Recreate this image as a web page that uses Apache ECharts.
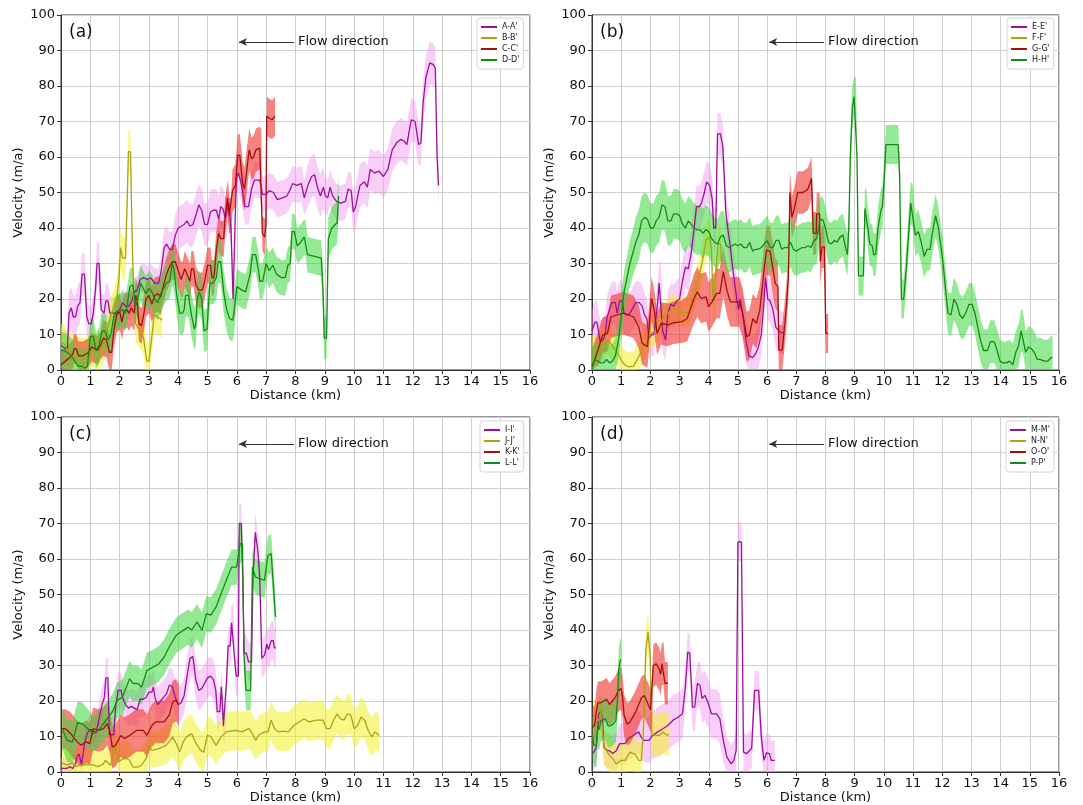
<!DOCTYPE html>
<html>
<head>
<meta charset="utf-8">
<script src="https://cdn.jsdelivr.net/npm/echarts@6/dist/echarts.min.js"></script>
<style>html,body{margin:0;padding:0;background:#fff;}#c{width:1083px;height:805px;}</style>
</head>
<body>
<div id="c"></div>
<script>
// Axis ranges / ticks
const X_MIN = 0, X_MAX = 16, X_STEP = 1;
const Y_MIN = 0, Y_MAX = 100, Y_STEP = 10;
const PANEL_LABELS = ['(a)', '(b)', '(c)', '(d)'];
const SERIES_NAMES = [
  ["A-A'", "B-B'", "C-C'", "D-D'"],
  ["E-E'", "F-F'", "G-G'", "H-H'"],
  ["I-I'", "J-J'", "K-K'", "L-L'"],
  ["M-M'", "N-N'", "O-O'", "P-P'"]
];
// Flow direction arrow (km, m/a): from, to
const ARROW_FROM = [7.95, 92.4];
const ARROW_TO = [6.07, 92.4];

// Each point: [distance km, velocity m/a, band half-width m/a]
const AA = [[0,7,5],[0.15,6,5],[0.22,6,5],[0.27,16,6],[0.35,17.5,6],[0.42,15,6],[0.5,15,6],[0.57,18,6],[0.65,19,6],[0.72,27,6],[0.8,27,6],[0.88,15,5],[0.95,13,5],[1.03,13,5],[1.1,16,5],[1.18,23,6],[1.23,30,6],[1.3,30,6],[1.37,17,5],[1.47,16,5],[1.53,19.5,5],[1.6,19.5,5],[1.67,16,5],[1.9,16,4],[2.0,17,4],[2.1,19,4],[2.2,18,4],[2.32,18,4],[2.42,19.5,4],[2.5,22,4],[2.6,22.5,4],[2.7,25.5,4],[2.8,26,4],[2.95,25.5,4],[3.05,26,4],[3.2,24.5,4],[3.33,24.5,4],[3.42,28,5],[3.52,34.5,5],[3.6,35.5,5],[3.7,34,5],[3.8,34,5],[3.9,38,6],[4.0,40,6],[4.2,41,6],[4.3,42,6],[4.4,40.5,6],[4.5,41,6],[4.6,43.5,6],[4.7,46.5,6],[4.8,45,6],[4.9,41,6],[5.0,41,6],[5.1,44.5,6],[5.2,45,6],[5.3,45,6],[5.38,42.5,6],[5.45,46,6],[5.52,45.5,6],[5.6,43,6],[5.65,43,6],[5.72,47,6],[5.8,40,6],[5.87,20,6],[5.93,20,6],[5.98,54,5],[6.05,55.5,5],[6.15,52.5,5],[6.28,46,5],[6.4,46,5],[6.5,51,5],[6.6,53.5,5],[6.78,53.5,5],[6.88,49.5,5],[7.0,49.5,5],[7.1,50.5,5],[7.25,50,5],[7.38,48,5],[7.55,48.5,5],[7.7,49,5],[7.8,50.5,5],[7.9,52.5,5],[8.05,52,5],[8.2,52.5,5],[8.3,48.5,5],[8.42,52,6],[8.55,54.5,6],[8.65,55,6],[8.75,51.5,6],[8.85,49,6],[8.95,51.5,6],[9.02,49,5],[9.1,48.5,5],[9.18,51.5,5],[9.27,49,5],[9.4,47.5,5],[9.55,47,5],[9.7,47.5,5],[9.8,51,5],[9.9,50.5,5],[9.97,44.5,6],[10.05,46,6],[10.2,52,6],[10.35,53,6],[10.45,51.5,6],[10.55,56.5,6],[10.7,55.5,6],[10.85,56,6],[11.0,54.5,6],[11.15,56.5,6],[11.3,62,6],[11.45,64,6],[11.6,65,6],[11.7,64.5,6],[11.8,63.5,6],[11.95,70.5,6],[12.08,70,6],[12.2,63.5,6],[12.28,64,6],[12.35,75,6],[12.45,82.5,6],[12.58,86.5,6],[12.7,86,6],[12.77,85,6],[12.83,60,6],[12.88,52,6]];
const BB = [[0,7.5,5.5],[0.1,7.5,5.5],[0.2,6,5],[0.35,5,5],[0.5,5,5],[0.65,4,5],[0.85,4,5],[1.0,5,5],[1.1,6.5,5],[1.2,5,5],[1.35,5.5,5],[1.5,8,5],[1.6,12,5],[1.7,15.5,5],[1.8,17.5,5],[1.9,20,6],[1.98,26,6],[2.03,34.5,6],[2.1,31.5,6],[2.2,31.5,6],[2.26,48,6],[2.3,61.5,6],[2.37,61.5,6],[2.42,40,6],[2.48,20,5],[2.55,13,5],[2.65,11.5,5],[2.75,10.5,5],[2.82,9,5],[2.88,5,5],[2.93,2.5,5],[3.0,2.5,5],[3.08,8,5],[3.18,15.5,5],[3.3,15,5],[3.45,14,5]];
const CC = [[0,1.5,4],[0.15,2.5,4],[0.3,3.5,4],[0.4,4.5,4],[0.45,6,4],[0.52,6,4],[0.6,4,4],[0.75,4,4],[0.85,4.5,4],[0.95,5,4],[1.05,6.5,4],[1.15,6,4],[1.25,5.5,4],[1.35,7,4],[1.45,9,5],[1.55,8.5,5],[1.65,5,5],[1.73,5,5],[1.8,11,5],[1.9,15.5,5],[2.0,16.5,5],[2.08,13.5,5],[2.15,16.5,5],[2.25,17,5],[2.32,16,5],[2.4,17.5,5],[2.5,16,5],[2.55,21,5],[2.6,19.5,5],[2.66,13,5],[2.75,12.5,5],[2.83,16,5],[2.9,20,5],[3.0,21,5],[3.1,18.5,5],[3.2,21,5],[3.3,21.5,5],[3.4,20.5,5],[3.5,24,5],[3.6,27,5],[3.7,29,5],[3.8,30.5,5],[3.9,30.5,5],[4.0,28,5],[4.1,25.5,5],[4.15,25.5,5],[4.22,28.5,5],[4.3,27,5],[4.4,25,5],[4.45,28.5,5],[4.52,28.5,5],[4.6,24,5],[4.7,22.5,5],[4.82,22.5,5],[4.9,25,5],[5.0,29.5,5],[5.1,29.5,5],[5.15,26,5],[5.22,26,5],[5.3,34,5],[5.38,38.5,5],[5.45,37,5],[5.55,37,5],[5.6,43,5],[5.68,48.5,5],[5.74,43.5,5],[5.8,43.5,5],[5.85,50.5,6],[5.95,52,6],[6.03,60.5,6],[6.1,60.5,6],[6.2,52.5,6],[6.26,51,6],[6.32,55,6],[6.42,62,6],[6.5,59.5,6],[6.57,60,6],[6.65,62,6],[6.78,62.5,6],[6.83,62,6],[6.87,38.5,5],[6.95,37.5,5],[6.99,41,5],[7.02,71.5,5.5],[7.1,71,5.5],[7.2,70.5,5.5],[7.3,71.5,5.5]];
const DD = [[0,5.5,5],[0.1,5.5,5],[0.2,5,5],[0.3,4.5,5],[0.4,3.5,5],[0.5,2,5],[0.6,1,5],[0.72,1,5],[0.82,0.5,5],[0.9,1,5],[0.95,5,5],[1.0,9.5,5],[1.1,9.5,5],[1.2,5.5,5],[1.3,7,5],[1.4,11,5],[1.5,11,5],[1.6,8.5,5],[1.7,10,5],[1.8,15,5],[1.9,16.5,5],[2.0,16.5,5],[2.1,17,5],[2.2,16,5],[2.28,19.5,5],[2.35,23.5,5],[2.45,24,5],[2.55,18,5],[2.62,20,5],[2.72,24.5,5],[2.8,23,5],[2.9,21.5,5],[3.0,23,5],[3.1,22,5],[3.2,20,5],[3.3,19,5],[3.4,21.5,5],[3.5,23,5],[3.6,24.5,5],[3.7,25,5],[3.8,30,6],[3.86,28,6],[3.95,21,6],[4.05,16,6],[4.15,16,6],[4.2,17,6],[4.25,21,6],[4.35,21,6],[4.45,15.5,6],[4.55,11.5,6],[4.6,13,6],[4.65,20,6],[4.72,22,6],[4.8,20,6],[4.88,11,6],[4.98,11.5,6],[5.08,24.5,6],[5.2,24.5,6],[5.3,26,6],[5.36,30.5,6],[5.45,30.5,6],[5.55,22,6],[5.65,17,6],[5.75,14.5,6],[5.85,14,6],[5.9,16,6],[6.0,23.5,5],[6.17,22.5,5],[6.3,22,5],[6.45,27,5],[6.53,32.5,5],[6.64,32.5,5],[6.74,28,5],[6.78,25,5],[6.88,25,5],[7.0,30,5],[7.1,28,5],[7.23,29.5,5],[7.35,27,5],[7.53,26,5],[7.65,26,5],[7.74,29.5,5],[7.82,30,5],[7.88,39,5],[7.96,39,5],[8.06,35,5],[8.18,36,5],[8.3,37.5,5],[8.35,37,5],[8.41,32.5,5],[8.65,32,5],[8.88,31.5,5],[8.94,22,6],[8.98,9,6],[9.06,9,6],[9.12,37,6],[9.24,40,6],[9.42,41.5,6],[9.47,49,6]];

const EE = [[0,11,6],[0.1,13.5,6],[0.17,13.5,6],[0.22,11,6],[0.28,8,6],[0.38,8.5,6],[0.45,10,6],[0.52,15,6],[0.6,17,6],[0.68,19,6],[0.8,19,6],[0.86,16,6],[0.95,19.5,6],[1.03,19.5,6],[1.1,16,6],[1.2,15.5,6],[1.3,16,6],[1.4,17.5,6],[1.5,19,6],[1.62,19,6],[1.72,18,6],[1.8,15.5,6],[1.88,14.5,6],[1.95,9,6],[2.05,10,6],[2.12,10,6],[2.18,14,6],[2.25,19,6],[2.3,24.5,6],[2.36,24.5,6],[2.42,11,6],[2.52,8.5,6],[2.6,16,6],[2.7,18.5,6],[2.8,18,6],[2.9,19.5,6],[3.0,20,6],[3.1,25,6],[3.2,29,6],[3.3,28.5,6],[3.4,33,6],[3.5,40,6],[3.58,46,6],[3.68,46,6],[3.75,47,6],[3.85,50,6],[3.93,53,6],[4.03,52,6],[4.12,48,6],[4.17,40,6],[4.24,40,6],[4.3,66.5,6],[4.4,66.5,6],[4.48,63,6],[4.53,55,6],[4.58,45,6],[4.65,40,6],[4.72,36,6],[4.8,30,6],[4.88,25,6],[4.96,20,6],[5.02,17,6],[5.08,20,6],[5.18,15,6],[5.28,8,6],[5.38,4,6],[5.5,3.5,6],[5.6,4.5,6],[5.7,6.5,6],[5.8,10,6],[5.88,18,6],[5.95,26,6],[6.02,20,6],[6.1,19.5,6],[6.2,17,6],[6.3,12,6],[6.4,11,6],[6.5,10.5,6],[6.58,10.5,6]];
const FF = [[0,5.8,4],[0.24,5.2,4],[0.41,8.4,4],[0.6,8,4],[0.77,6,4],[0.89,4.7,4],[1.0,2.8,4],[1.13,1.4,4],[1.24,0.9,4],[1.42,1.1,4],[1.54,2.8,4],[1.66,4.7,4],[1.78,6.6,4],[1.9,8.4,4],[2.01,10.3,4],[2.19,11.3,4],[2.31,12.7,4],[2.43,14.5,4],[2.6,16,4],[2.78,17.4,4],[2.96,16.4,4],[3.2,16.1,4],[3.32,16.4,4],[3.44,19.7,4],[3.55,22.5,4.5],[3.67,26.3,5],[3.79,31,5],[3.91,36.6,5],[4.03,37.5,5],[4.09,34.7,5],[4.15,18.8,5],[4.2,18.8,5],[4.32,35.6,5],[4.41,35.4,5],[4.44,29,5]];
const GG = [[0.02,1,5],[0.24,6.6,5],[0.36,9.8,5],[0.53,10.3,5],[0.65,15,6],[1.07,16,6],[1.42,15,6],[1.6,12.2,6],[1.72,7.5,6],[1.9,6.6,6],[2.04,20.2,6],[2.13,16.9,6],[2.23,10.3,6],[2.37,13.1,6],[2.6,12.7,6],[2.78,13.3,6],[3.08,13.6,6],[3.26,14.5,6.5],[3.5,20.2,7],[3.61,22,7],[3.73,20.2,7],[3.91,20.6,7],[3.99,17.8,7],[4.11,19.2,7],[4.27,21.6,7],[4.38,21.6,7],[4.5,27.7,7],[4.62,22.5,7],[4.74,19.2,7],[4.92,19.2,7],[5.04,19.2,7],[5.15,16.4,7],[5.3,9.4,7],[5.39,9.8,7],[5.51,14.5,7],[5.63,13.1,7],[5.75,16.9,7],[5.92,30,7],[5.98,33.8,7],[6.1,33.5,7],[6.28,24.4,7],[6.37,23.5,7],[6.4,5.6,7],[6.52,5.6,7],[6.66,17.8,6.5],[6.73,26.3,6],[6.78,50,6],[6.85,43,6],[6.93,45.5,6],[7.05,50,6],[7.23,50,6],[7.4,51,6],[7.52,54,6],[7.58,38.5,6],[7.68,38.5,6],[7.7,44,6],[7.8,44,6],[7.82,30.5,6],[7.88,34.7,6],[7.96,34.7,6],[8.01,10.3,5.5],[8.09,10.3,5.5]];
const HH = [[0,1,5],[0.1,3,5],[0.2,2.5,5],[0.3,2,5],[0.4,2,5],[0.5,3,5],[0.6,2,5],[0.7,2.5,5],[0.8,4,5],[0.9,8,5],[1.0,15,6],[1.1,22,6],[1.2,26,6],[1.3,30,6.5],[1.4,33,6.5],[1.5,36,7],[1.6,38,7],[1.7,42,7],[1.8,43,7],[1.9,42.5,7],[2.0,40,7],[2.1,40,7],[2.2,42,7],[2.3,43,7],[2.4,46.5,7],[2.5,46,7],[2.6,42,7],[2.7,42,7],[2.8,44,7],[2.9,44,7],[3.0,43.5,7],[3.1,41,7],[3.2,40,7],[3.3,42,7],[3.4,41,7],[3.5,40,7],[3.6,39.5,7],[3.7,39.5,7],[3.8,38.5,7],[3.9,39.5,7],[4.0,39,7],[4.1,37,7],[4.2,36,7],[4.3,35.5,7],[4.4,37.5,7],[4.5,38,7],[4.6,35,7],[4.7,34.5,7],[4.8,35,7],[4.9,35.5,7],[5.0,35,7],[5.1,35.5,7],[5.2,34.5,7],[5.3,34.5,7],[5.4,36,7],[5.5,33.5,7],[5.6,34,7],[5.7,34,7],[5.8,34.5,7],[5.9,35.5,7],[6.0,36.5,7],[6.1,34.5,7],[6.2,34.5,7],[6.3,36.5,7],[6.4,36.5,7],[6.5,34,7],[6.6,34.5,7],[6.7,34.5,7],[6.8,36,7],[6.9,34,7],[7.0,33.5,7],[7.1,34,7],[7.2,34.5,7],[7.3,34.5,7],[7.4,35,7],[7.5,34.5,7],[7.6,36.5,7],[7.7,37,7],[7.8,42,6.5],[7.9,42.5,6.5],[8.0,40,6],[8.1,36,6],[8.2,35.5,6],[8.3,36.5,6],[8.4,36,6],[8.5,37.5,6],[8.6,38,6],[8.7,34,6],[8.75,32.5,6],[8.8,40,6],[8.85,60,6],[8.92,74,6],[8.98,77,5.5],[9.04,77,5.5],[9.08,60,6],[9.13,26.5,5.5],[9.3,26.5,5.5],[9.35,45.5,5.5],[9.4,45.5,5.5],[9.45,40,6],[9.52,35.5,6],[9.6,35,6],[9.65,32.5,6],[9.72,32.5,6],[9.8,40,6],[9.9,45,6],[9.95,46,6],[10.02,55,6],[10.07,63.5,5.5],[10.49,63.5,5.5],[10.54,55,6],[10.6,20,5.5],[10.68,20,5.5],[10.78,30,6],[10.86,40,6],[10.92,47,6],[10.98,46.5,6],[11.08,38,6],[11.18,39,6],[11.28,36,6],[11.38,32,6],[11.48,34,6],[11.58,34,6],[11.65,38,6],[11.77,43.5,6],[11.87,40,6],[11.95,35,6],[12.03,30,6],[12.12,22,6],[12.2,16,6],[12.3,15.5,6],[12.4,20,6],[12.5,18.5,6],[12.6,15.5,6],[12.7,14.5,6],[12.8,16,6],[12.92,18.5,6],[13.02,18.5,6],[13.12,16,6],[13.22,12,6],[13.32,8,6],[13.42,5.5,6],[13.55,5.5,6],[13.65,8,6],[13.78,8,6],[13.88,5.5,6],[13.98,2.5,6],[14.08,2,6],[14.2,2,6],[14.3,2.5,6],[14.42,1.5,6],[14.52,5,6],[14.62,7,6],[14.7,11,6],[14.76,11,6],[14.86,5,6],[14.96,6.5,6],[15.05,6,6],[15.15,5,6],[15.25,3,6],[15.35,3,6],[15.5,2.5,6],[15.62,2.5,6],[15.72,3.5,6],[15.78,3.5,6]];

const II = [[0,1,3],[0.2,1,3],[0.3,1.5,3],[0.4,1,3],[0.5,2.5,3],[0.55,4.5,3],[0.62,5,3],[0.7,2,3],[0.8,8,4],[0.9,11,4],[1.0,12,4],[1.1,11.5,4],[1.2,11,4],[1.3,15,5],[1.4,19,5],[1.48,21,5],[1.53,26.5,5.5],[1.6,26.5,5.5],[1.65,10.5,5],[1.8,10.5,5],[1.86,18,5],[1.95,23,5],[2.05,23,5],[2.1,21,5],[2.2,19,5],[2.3,18,5],[2.4,18.5,5],[2.5,18,5],[2.6,17.5,5],[2.7,20.5,5],[2.8,20.5,5],[2.9,21,5],[3.0,22.5,5],[3.1,22.5,5],[3.15,24,5],[3.22,20.5,5],[3.3,19,5],[3.4,20,5],[3.5,21,5],[3.6,22,5],[3.7,24.5,5],[3.8,24,5],[3.9,21,5],[4.0,19,5],[4.1,19.5,5],[4.2,21.5,5],[4.3,27,5.5],[4.4,32,5.5],[4.5,32.5,5.5],[4.6,26,5.5],[4.7,23,5.5],[4.8,23.5,5.5],[4.9,25,5.5],[5.0,26.5,5.5],[5.1,27,5.5],[5.2,26,5.5],[5.28,23,5.5],[5.33,17,5.5],[5.42,17,5.5],[5.47,24,5.5],[5.5,20,5.5],[5.54,13,5],[5.6,13,5],[5.65,26,5.5],[5.7,35.5,5.5],[5.77,35.5,5.5],[5.82,42,5.5],[5.88,42,5.5],[5.94,30,5.5],[5.98,27,5.5],[6.05,27,5.5],[6.08,70,5.5],[6.15,70,5.5],[6.2,55,5.5],[6.25,33.5,5.5],[6.32,33.5,5.5],[6.4,31,5.5],[6.5,31,5.5],[6.55,55,5.5],[6.63,67.5,5.5],[6.72,62,5.5],[6.78,55,5.5],[6.85,32,5.5],[6.95,33,5.5],[7.02,36,5.5],[7.08,34.5,5.5],[7.17,37,5.5],[7.24,37,5.5],[7.28,35,5.5],[7.33,35,5.5]];
const JJ = [[0.04,2.5,4.5],[0.2,2,4.5],[0.4,2.5,4.5],[0.5,1.5,4.5],[0.65,2,4.5],[0.9,2,4.5],[1.1,2,4.5],[1.25,1.5,4.5],[1.45,2.3,4.5],[1.51,3.3,4.5],[1.69,1.9,4.5],[1.86,7.5,5],[1.98,2.8,5],[2.16,4.2,5],[2.34,3.3,5],[2.45,1.4,5],[2.63,1.4,5],[2.75,1.9,5],[2.93,4.2,5],[2.98,7.5,5],[3.1,6.1,5],[3.34,6.6,5],[3.58,7.5,5.5],[3.69,8.5,5.5],[3.81,9.9,5.5],[3.93,8,5.5],[4.05,5.6,5.5],[4.17,8.5,5.5],[4.28,9.9,5.5],[4.46,10.8,5.5],[4.58,8.5,5.5],[4.76,6.1,5.5],[4.87,5.6,5.5],[4.99,10.3,5.5],[5.11,10,5.5],[5.29,7.5,5.5],[5.46,9.9,5.5],[5.64,11.3,5.5],[5.94,11.7,5.5],[6.17,11.3,5.5],[6.41,12.2,5.5],[6.53,10.8,5.5],[6.64,8.9,5.5],[6.76,10.5,5.5],[6.94,11.3,5.5],[7.06,11.3,5.5],[7.17,14.6,5.5],[7.29,12.2,5.5],[7.41,11.3,5.5],[7.59,11.5,5.5],[7.76,11.3,5.5],[7.94,13.1,5.5],[8.12,14.1,5.5],[8.29,15,5.5],[8.47,14.1,5.5],[8.71,14.6,5.5],[8.94,14.6,5.5],[9.06,12.2,5.5],[9.18,12.2,5.5],[9.3,14.6,5.5],[9.42,16.4,5.5],[9.53,15,5.5],[9.65,14.6,5.5],[9.77,16.4,5.5],[9.89,16,5.5],[10.0,12.2,5.5],[10.12,13.1,5.5],[10.24,15.5,5.5],[10.36,14.6,5.5],[10.48,11.7,5.5],[10.6,9.9,5.5],[10.71,11.3,5.5],[10.77,11.7,5.5],[10.86,10.3,5.5]];
const KK = [[0.04,12.2,5.5],[0.15,12.2,5.5],[0.33,10.8,6],[0.51,8.9,6],[0.68,7.5,6],[0.86,8.5,6],[0.98,8,6],[1.1,12.2,6],[1.27,11.7,6],[1.45,12.2,6],[1.57,13.6,6],[1.66,11.7,6],[1.75,7,6],[1.86,7.5,6],[2.04,10.3,6],[2.16,9.4,6],[2.34,10.3,6],[2.57,11.7,6],[2.81,11.7,6],[2.93,10.3,6],[3.1,13.1,6],[3.22,14.1,6],[3.52,14.1,6],[3.69,16,6],[3.81,19.7,6],[3.93,20.2,6],[4.02,18.8,6]];
const LL = [[0.04,12.2,5.5],[0.21,8.9,6],[0.39,8.5,6],[0.57,14,6],[0.74,13.5,6],[0.92,12.2,5.5],[1.1,10.8,5],[1.33,12.2,5],[1.57,15,5],[1.75,16.9,5],[1.92,20.2,5],[2.1,21.1,5],[2.34,26.3,5],[2.45,25,5],[2.63,24.9,5],[2.75,23.9,5],[2.93,28.6,5],[3.16,29.6,5],[3.34,30.5,5],[3.52,32.4,5],[3.69,35.2,5],[3.93,38.5,5],[4.17,39.9,5],[4.34,40.8,5],[4.46,40,5],[4.64,42.3,5],[4.81,39.9,5],[4.96,44.6,5],[5.11,44.2,5],[5.29,46.5,5],[5.46,50.2,5],[5.64,54,5],[5.82,57.7,5],[5.99,57.7,5],[6.11,64.3,5.5],[6.19,64.3,5.5],[6.24,33.3,5.5],[6.31,23,5.5],[6.47,23,5.5],[6.53,57.7,5],[6.64,54.9,5],[6.94,54,5],[7.06,61,5.5],[7.17,61.5,5.5],[7.32,43.7,5.5]];

const MM = [[0.02,5.2,5],[0.14,6.6,5],[0.24,16.4,5],[0.3,17,5],[0.36,14.5,5],[0.41,7,5],[0.53,6,5],[0.6,6,5],[0.71,5.2,5],[0.83,6,5.5],[0.95,8,5.5],[1.13,8,6],[1.24,9.4,6],[1.42,10.3,6],[1.6,11.3,6],[1.68,9.9,6],[1.78,8.9,6],[1.96,8.9,6.5],[2.07,10.3,6.5],[2.25,11.3,7],[2.43,12.2,7],[2.6,13.1,7],[2.78,14.6,7],[2.96,15.5,7],[3.1,16.4,7],[3.2,24,6],[3.28,33.8,5.5],[3.35,33.5,5.5],[3.44,18.3,6.5],[3.52,18.3,7],[3.61,24.9,6],[3.7,24.5,6.5],[3.77,20.7,7],[3.87,21.6,7],[3.99,19.2,7],[4.09,16.4,7],[4.27,16.4,7],[4.38,15,7],[4.5,8.9,6],[4.62,4.2,5.5],[4.77,2.3,5.5],[4.86,3.3,5.5],[4.94,6.1,5.5],[5.0,64.8,5.5],[5.12,64.8,5.5],[5.19,5.6,5.5],[5.3,5.2,5.5],[5.47,6.6,5.5],[5.57,23,5.5],[5.71,23,5.5],[5.8,9.9,5.5],[5.89,3.3,5.5],[5.98,5.4,5.5],[6.08,5.2,5.5],[6.14,3.3,5.5],[6.26,3.3,5.5]];
const NN = [[0.05,16,5],[0.15,15,5],[0.24,14.5,5],[0.3,17,5],[0.36,12,5],[0.41,7,5],[0.5,6,5],[0.6,4.7,5],[0.71,3.8,5],[0.83,2.3,5],[1.0,3.3,5],[1.13,3.3,5],[1.22,4.5,5],[1.3,5.6,5],[1.48,5,5],[1.6,3.3,5],[1.69,3.3,5],[1.75,10,5],[1.78,15.5,5],[1.84,34,5.5],[1.92,39.5,5.5],[1.99,33,5.5],[2.05,10.8,5.5],[2.13,10.3,6],[2.31,10.3,6],[2.43,11.3,6],[2.55,10.5,6],[2.63,10.5,6]];
const OO = [[0.02,12.5,5.5],[0.1,13.5,5.5],[0.15,17,6],[0.2,19.5,6],[0.3,19.5,6],[0.4,20,6],[0.5,20.5,6],[0.6,19,6],[0.7,20,6],[0.8,21,6],[0.9,23,6],[1.0,23.5,6],[1.05,21,6],[1.1,16,6],[1.2,13.5,6],[1.3,14,6],[1.4,15.5,6],[1.5,17,6],[1.6,19,6],[1.7,21,6],[1.8,21.5,6],[1.9,19.5,6],[2.0,17.5,6],[2.05,17.5,6],[2.1,30,6],[2.2,30.5,6],[2.3,29,6],[2.35,27.5,6],[2.4,30.5,6],[2.45,30.5,6],[2.5,25,6],[2.6,25,6]];
const PP = [[0.02,10,6],[0.07,7.5,6],[0.15,7.5,6],[0.2,13,6],[0.25,12,6],[0.3,14.5,6],[0.36,15,6],[0.46,15,6],[0.55,13,6],[0.62,13,6],[0.72,13.5,6],[0.82,14.5,6],[0.87,20,6],[0.92,29,6],[0.97,31.5,6],[1.0,31.5,6]];

const PANEL_DATA = [[AA, BB, CC, DD], [EE, FF, GG, HH], [II, JJ, KK, LL], [MM, NN, OO, PP]];

// Styles
const LINE_COLORS = ['#9b119b', '#aba314', '#a60f0f', '#148c14'];
const BAND_COLORS = ['rgba(240,140,240,0.42)', 'rgba(242,242,40,0.55)', 'rgba(240,50,40,0.6)', 'rgba(60,215,60,0.55)'];
const FONT = 'DejaVu Sans';
const GRIDS = [
  { left: 61, top: 15, width: 469, height: 355 },
  { left: 592, top: 15, width: 467, height: 355 },
  { left: 61, top: 417, width: 469, height: 355 },
  { left: 592, top: 417, width: 467, height: 355 }
];
const LEGEND_POS = [{ left: 477, top: 18 }, { left: 1007, top: 18 }, { left: 480, top: 421 }, { left: 1006, top: 421 }];

function bandRender(params, api) {
  if (params.dataIndexInside !== 0) return null;
  const n = params.dataInsideLength;
  const top = [], bot = [];
  for (let i = 0; i < n; i++) {
    const x = api.value(0, i);
    top.push(api.coord([x, Math.min(Y_MAX, api.value(2, i))]));
    bot.push(api.coord([x, Math.max(Y_MIN, api.value(1, i))]));
  }
  return {
    type: 'polygon',
    shape: { points: top.concat(bot.reverse()) },
    style: { fill: api.visual('color'), stroke: null }
  };
}

const grid = [], xAxis = [], yAxis = [], legend = [], title = [], series = [];
GRIDS.forEach((g, p) => {
  grid.push(Object.assign({ show: true, borderColor: '#333', borderWidth: 1, backgroundColor: '#fff', containLabel: false }, g));
  xAxis.push({
    type: 'value', gridIndex: p, min: X_MIN, max: X_MAX, interval: X_STEP,
    name: 'Distance (km)', nameLocation: 'middle', nameGap: 19,
    nameTextStyle: { fontFamily: FONT, fontSize: 13, color: '#111' },
    axisLine: { show: true, onZero: false, lineStyle: { color: '#333' } },
    axisTick: { show: true, inside: false, length: 4, lineStyle: { color: '#333' } },
    axisLabel: { fontFamily: FONT, fontSize: 13, color: '#111', margin: 5 },
    splitLine: { show: true, lineStyle: { color: '#cfcfcf', width: 1 } }
  });
  yAxis.push({
    type: 'value', gridIndex: p, min: Y_MIN, max: Y_MAX, interval: Y_STEP,
    name: 'Velocity (m/a)', nameLocation: 'middle', nameGap: 36,
    nameTextStyle: { fontFamily: FONT, fontSize: 13, color: '#111' },
    axisLine: { show: true, onZero: false, lineStyle: { color: '#333' } },
    axisTick: { show: true, inside: false, length: 4, lineStyle: { color: '#333' } },
    axisLabel: { fontFamily: FONT, fontSize: 13, color: '#111', margin: 6 },
    splitLine: { show: true, lineStyle: { color: '#cfcfcf', width: 1 } }
  });
  title.push({
    text: PANEL_LABELS[p], left: g.left + 3, top: g.top + 4,
    textStyle: { fontFamily: FONT, fontSize: 17, fontWeight: 'normal', color: '#111' }
  });
  legend.push(Object.assign({
    orient: 'vertical', data: SERIES_NAMES[p], icon: 'rect', itemWidth: 16, itemHeight: 2,
    itemGap: 3, padding: [5, 4, 5, 4], backgroundColor: '#fff', borderColor: '#d5d5d5',
    borderWidth: 1, borderRadius: 3, selectedMode: false,
    textStyle: { fontFamily: FONT, fontSize: 8, color: '#222', padding: [0, 0, 0, 0] }
  }, LEGEND_POS[p]));

  // bands first
  PANEL_DATA[p].forEach((arr, k) => {
    series.push({
      type: 'custom', xAxisIndex: p, yAxisIndex: p, silent: true, z: 1,
      renderItem: bandRender,
      itemStyle: { color: BAND_COLORS[k] },
      encode: { x: 0, y: [1, 2] },
      data: arr.map(d => [d[0], d[1] - d[2], d[1] + d[2]])
    });
  });
  // lines on top
  PANEL_DATA[p].forEach((arr, k) => {
    const s = {
      type: 'line', name: SERIES_NAMES[p][k], xAxisIndex: p, yAxisIndex: p, z: 3,
      showSymbol: false, symbol: 'none', silent: true,
      itemStyle: { color: LINE_COLORS[k] },
      lineStyle: { color: LINE_COLORS[k], width: 1.3 },
      data: arr.map(d => [d[0], d[1]])
    };
    if (k === 0) {
      s.markLine = {
        silent: true, symbol: ['none', 'arrow'], symbolSize: [6, 8], precision: 3,
        lineStyle: { color: '#333', width: 1, type: 'solid' },
        label: { show: true, position: 'start', formatter: 'Flow direction', distance: 4,
          fontFamily: FONT, fontSize: 13, color: '#111' },
        data: [[{ coord: ARROW_FROM }, { coord: ARROW_TO }]]
      };
    }
    series.push(s);
  });
});

const chart = echarts.init(document.getElementById('c'), null, { renderer: 'canvas' });
chart.setOption({ animation: false, backgroundColor: '#fff', grid, xAxis, yAxis, title, legend, series });
</script>
</body>
</html>
